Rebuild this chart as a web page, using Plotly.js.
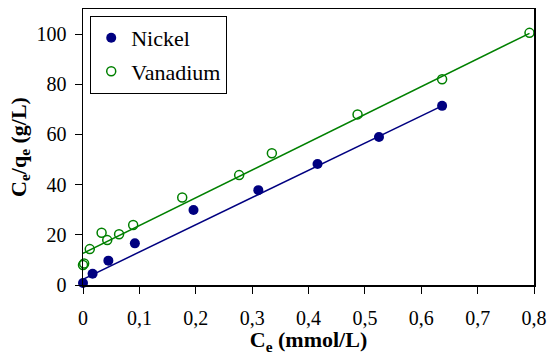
<!DOCTYPE html>
<html><head><meta charset="utf-8">
<script src="https://cdn.plot.ly/plotly-3.0.1.min.js"></script>
<style>body{margin:0;background:#fff}#c{width:550px;height:355px}</style>
</head><body><div id="c"></div>
<script>
const nickelX = [0.0, 0.017, 0.045, 0.092, 0.196, 0.311, 0.416, 0.525, 0.637];
const nickelY = [0.8, 4.5, 9.7, 16.6, 29.9, 37.8, 48.2, 59.0, 71.4];
const vanadiumX = [0.0, 0.002, 0.012, 0.033, 0.043, 0.064, 0.089, 0.176, 0.277, 0.335, 0.487, 0.637, 0.792];
const vanadiumY = [8.0, 8.6, 14.3, 20.8, 17.9, 20.2, 23.9, 34.9, 43.8, 52.5, 68.0, 82.0, 100.5];
const nickelFitX = [0.0, 0.637];
const nickelFitY = [2.3, 71.4];
const vanadiumFitX = [0.0, 0.792];
const vanadiumFitY = [12.6, 100.3];
const xTicks = [0, 0.1, 0.2, 0.3, 0.4, 0.5, 0.6, 0.7, 0.8];
const yTicks = [0, 20, 40, 60, 80, 100];

const navy = '#000080', green = '#008000';
const traces = [
  {x: nickelFitX, y: nickelFitY, mode: 'lines', line: {color: navy, width: 1.5}, showlegend: false, hoverinfo: 'skip'},
  {x: vanadiumFitX, y: vanadiumFitY, mode: 'lines', line: {color: green, width: 1.5}, showlegend: false, hoverinfo: 'skip'},
  {x: nickelX, y: nickelY, mode: 'markers', name: 'Nickel', legendgroup: 'a', cliponaxis: false,
   marker: {color: navy, size: 10, symbol: 'circle'}},
  {x: vanadiumX, y: vanadiumY, mode: 'markers', name: 'Vanadium', legendgroup: 'b', cliponaxis: false,
   marker: {color: green, size: 9, symbol: 'circle-open', line: {color: green, width: 1.5}}}
];
const F = (s) => ({family: 'Liberation Serif, Times New Roman, serif', color: '#000', size: s});
const layout = {
  width: 550, height: 355,
  margin: {l: 83, r: 16, t: 9, b: 70},
  paper_bgcolor: '#fff', plot_bgcolor: '#fff',
  separators: ', ',
  font: F(20),
  showlegend: true,
  legend: {x: 0.016, y: 0.975, xanchor: 'left', yanchor: 'top', bgcolor: '#fff',
    bordercolor: '#000', borderwidth: 1, font: F(22), traceorder: 'grouped', tracegroupgap: 2},
  xaxis: {range: [0, 0.8], tickvals: xTicks, ticks: 'outside', ticklen: 7, tickcolor: '#000',
    showline: true, linecolor: '#000', linewidth: 1.5, mirror: true, showgrid: false, zeroline: false,
    ticklabelstandoff: 7, tickfont: F(20),
    title: {text: '<b>C<sub>e</sub> (mmol/L)</b>', font: F(22), standoff: 5}},
  yaxis: {range: [0, 110], tickvals: yTicks, ticks: 'outside', ticklen: 7, tickcolor: '#000',
    showline: true, linecolor: '#000', linewidth: 1.5, mirror: true, showgrid: false, zeroline: false,
    ticklabelstandoff: 4, tickfont: F(20),
    title: {text: '<b>C<sub>e</sub>/q<sub>e</sub> (g/L)</b>', font: F(22), standoff: 4}}
};
Plotly.newPlot('c', traces, layout, {staticPlot: true});
</script></body></html>
